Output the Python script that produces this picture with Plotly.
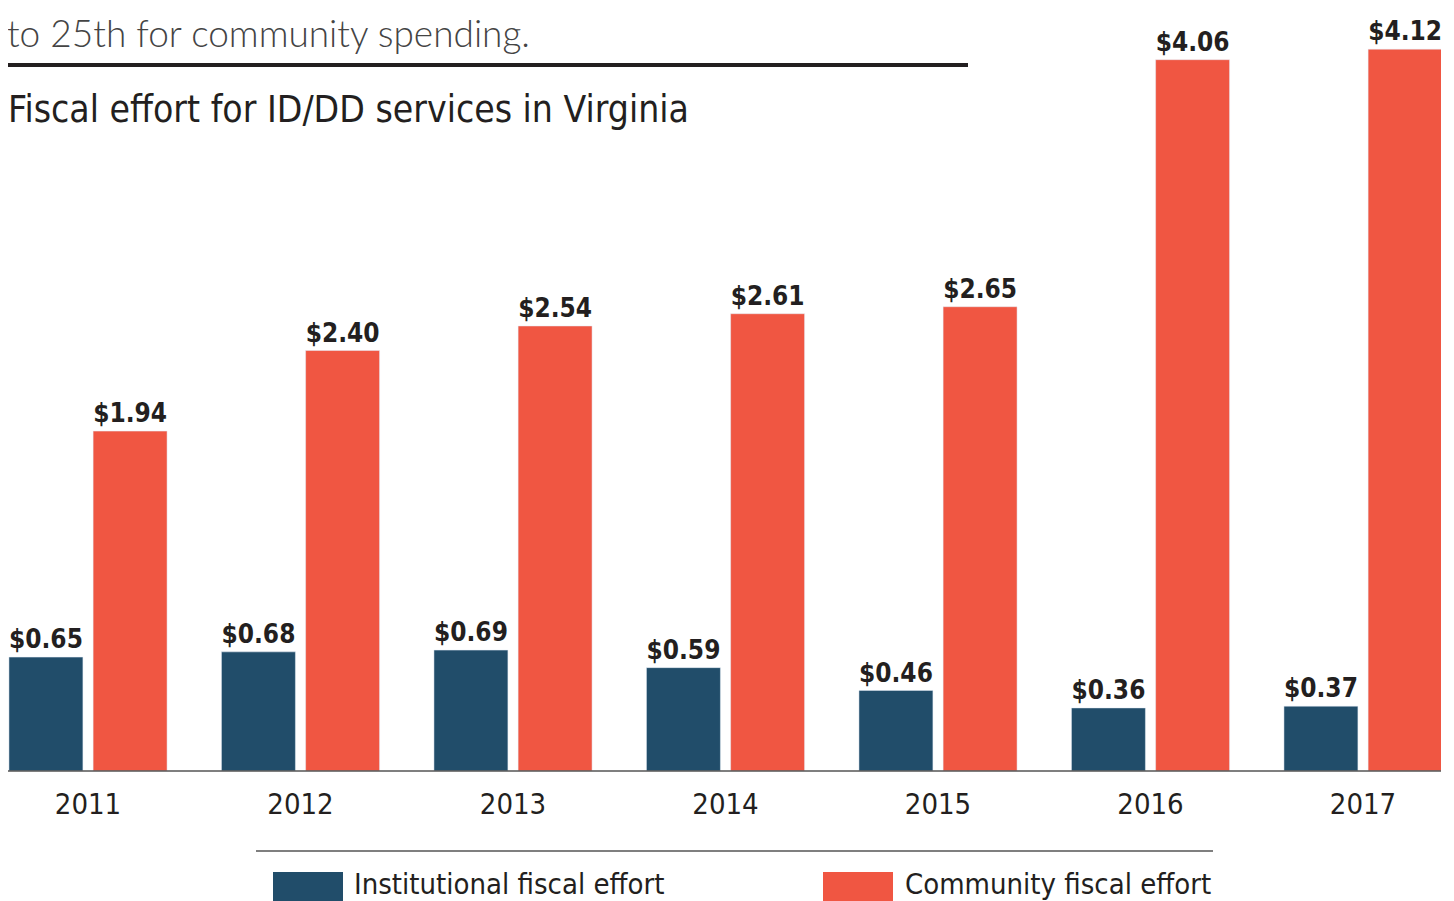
import plotly.graph_objects as go

years = ["2011", "2012", "2013", "2014", "2015", "2016", "2017"]
institutional = [0.65, 0.68, 0.69, 0.59, 0.46, 0.36, 0.37]
community = [1.94, 2.40, 2.54, 2.61, 2.65, 4.06, 4.12]
series_names = ["Institutional fiscal effort", "Community fiscal effort"]
title_text = "Fiscal effort for ID/DD services in Virginia"
intro_text = "to 25th for community spending."

NAVY = "#214d6a"
RED = "#f05642"
INK = "#231f20"
FONT = "'DejaVu Sans Condensed', 'Liberation Sans Narrow', sans-serif"

W, H = 1454, 901
OFF = 8  # page body margin
ML, MR, MT, MB = 0, 21, 12, 138
PW, PH = W - ML - MR, H - MT - MB


def px_x(px):
    return (px - OFF - ML) / PW


def px_y(py):
    return (H - MB - (py - OFF)) / PH


fig = go.Figure()
for vals, name, color, off in [
    (institutional, series_names[0], NAVY, -0.372),
    (community, series_names[1], RED, 0.024),
]:
    fig.add_trace(go.Bar(
        x=years, y=vals, name=name, marker_color=color,
        width=0.348, offset=off,
        texttemplate="$%{y:.2f}", textposition="outside", cliponaxis=False,
        textfont=dict(family=FONT, size=31, color=INK, weight="bold"),
        showlegend=False,
    ))

fig.update_layout(
    width=W, height=H,
    margin=dict(l=ML, r=MR, t=MT, b=MB, pad=0),
    paper_bgcolor="white", plot_bgcolor="white",
    barmode="overlay",
    font=dict(family=FONT, color=INK),
    xaxis=dict(
        type="category", range=[-0.3765, 6.367],
        showgrid=False, zeroline=False, showline=False, ticks="",
        tickfont=dict(family=FONT, size=29, color=INK),
        ticklabelstandoff=13,
        fixedrange=True,
    ),
    yaxis=dict(
        range=[0, PH / 175.2], visible=False, showgrid=False, zeroline=False,
        fixedrange=True,
    ),
    shapes=[
        dict(type="line", xref="paper", yref="paper", x0=0, x1=1, y0=0, y1=0,
             line=dict(color="#555555", width=1.5)),
        dict(type="line", xref="paper", yref="paper", x0=px_x(5), x1=px_x(968),
             y0=px_y(65), y1=px_y(65), line=dict(color=INK, width=4)),
        dict(type="line", xref="paper", yref="paper", x0=px_x(256), x1=px_x(1213),
             y0=px_y(851), y1=px_y(851), line=dict(color="#555555", width=1.5)),
        dict(type="rect", xref="paper", yref="paper", x0=px_x(273), x1=px_x(343),
             y0=px_y(901), y1=px_y(872), fillcolor=NAVY, line=dict(width=0)),
        dict(type="rect", xref="paper", yref="paper", x0=px_x(823), x1=px_x(893),
             y0=px_y(901), y1=px_y(872), fillcolor=RED, line=dict(width=0)),
    ],
    annotations=[
        dict(text=intro_text, xref="paper", yref="paper", x=px_x(5), y=px_y(8),
             xanchor="left", yanchor="top", showarrow=False,
             font=dict(family="'Lato', 'Open Sans', sans-serif", size=37, color="#444444", weight=300)),
        dict(text=title_text, xref="paper", yref="paper", x=px_x(6), y=px_y(110),
             xanchor="left", yanchor="middle", showarrow=False,
             font=dict(family=FONT, size=37, color=INK)),
        dict(text=series_names[0], xref="paper", yref="paper", x=px_x(352), y=px_y(884),
             xanchor="left", yanchor="middle", showarrow=False,
             font=dict(family=FONT, size=29, color=INK)),
        dict(text=series_names[1], xref="paper", yref="paper", x=px_x(903), y=px_y(884),
             xanchor="left", yanchor="middle", showarrow=False,
             font=dict(family=FONT, size=29, color=INK)),
    ],
)

fig.write_html("out.html")
